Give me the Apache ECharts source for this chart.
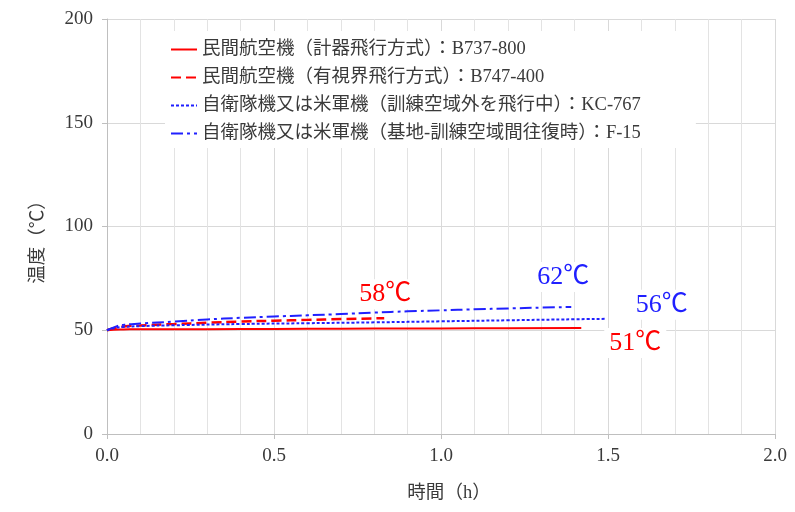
<!DOCTYPE html>
<html><head><meta charset="utf-8">
<script src="https://cdn.jsdelivr.net/npm/echarts@6/dist/echarts.min.js"></script>
<style>html,body{margin:0;padding:0;background:#fff}#c{width:795px;height:512px}</style>
</head><body><div id="c"></div>
<script>
// Series names
const seriesNames = [
  '民間航空機（計器飛行方式）：B737-800',
  '民間航空機（有視界飛行方式）：B747-400',
  '自衛隊機又は米軍機（訓練空域外を飛行中）：KC-767',
  '自衛隊機又は米軍機（基地-訓練空域間往復時）：F-15'
];
// B737-800 (red solid)
const b737X = [0, 0.02, 0.05, 0.1, 0.2, 0.4, 0.6, 0.8, 1.0, 1.2, 1.42];
const b737Y = [50, 50.3, 50.4, 50.5, 50.5, 50.6, 50.7, 50.8, 50.9, 51.0, 51.1];
// B747-400 (red dashed)
const b747X = [0, 0.02, 0.05, 0.1, 0.2, 0.3, 0.4, 0.5, 0.6, 0.7, 0.83];
const b747Y = [50, 51.0, 51.8, 52.3, 53.0, 53.6, 54.2, 54.6, 55.0, 55.4, 55.8];
// KC-767 (blue dotted)
const kc767X = [0, 0.02, 0.05, 0.1, 0.2, 0.4, 0.6, 0.8, 1.0, 1.2, 1.4, 1.49];
const kc767Y = [50, 51.0, 51.6, 52.0, 52.4, 53.0, 53.4, 53.8, 54.3, 54.8, 55.3, 55.5];
// F-15 (blue dash-dot)
const f15X = [0, 0.03, 0.05, 0.1, 0.2, 0.3, 0.4, 0.5, 0.6, 0.7, 0.8, 0.9, 1.0, 1.1, 1.2, 1.3, 1.39];
const f15Y = [50, 52.0, 52.6, 53.2, 54.2, 55.2, 56.0, 56.6, 57.2, 57.8, 58.5, 59.1, 59.6, 60.1, 60.5, 60.9, 61.2];
// Annotation labels
const peakLabels = ['51℃', '58℃', '56℃', '62℃'];
// Axis titles
const xTitle = '時間（h）';
const yTitle = '温度（℃）';

const zip = (xs, ys) => xs.map((x, i) => [x, ys[i]]);
const serif = "'Liberation Serif','Noto Sans CJK JP',serif";
const RED = '#ff0000', BLUE = '#2020ff';
const TXT = '#3a3a3a';

function mk(name, data, color, type, width, lbl, off) {
  return {
    name, type: 'line', data, symbol: 'none', smooth: true,
    lineStyle: { color, type, width },
    itemStyle: { color },
    endLabel: {
      show: true, formatter: lbl, color, fontFamily: serif, fontSize: 26,
      align: 'center', verticalAlign: 'middle', offset: off,
      backgroundColor: '#fff', padding: [2, 5]
    },
    z: 3
  };
}

const chart = echarts.init(document.getElementById('c'));
chart.setOption({
  animation: false,
  backgroundColor: '#fff',
  grid: { left: 107, right: 20, top: 19, bottom: 78 },
  legend: {
    orient: 'vertical', left: 165, top: 31,
    itemWidth: 26, itemHeight: 12, itemGap: 9,
    backgroundColor: '#fff', padding: [9, 55, 5, 5],
    itemStyle: { opacity: 0 },
    textStyle: { fontSize: 18.5, lineHeight: 19, color: TXT, fontFamily: serif },
    data: seriesNames
  },
  xAxis: {
    type: 'value', min: 0, max: 2, interval: 0.5,
    name: xTitle, nameLocation: 'middle', nameGap: 50,
    nameTextStyle: { fontSize: 18.5, color: TXT, fontFamily: serif, padding: [0, 0, 0, 16] },
    axisLine: { lineStyle: { color: '#bfbfbf' } },
    axisTick: { show: true, length: 5, lineStyle: { color: '#bfbfbf' } },
    axisLabel: { fontSize: 19, color: TXT, fontFamily: serif, margin: 13,
      formatter: v => v.toFixed(1) },
    splitLine: { lineStyle: { color: '#d9d9d9' } },
    minorTick: { show: false, splitNumber: 5 },
    minorSplitLine: { show: true, lineStyle: { color: '#e3e3e3' } }
  },
  yAxis: {
    type: 'value', min: 0, max: 200, interval: 50,
    name: yTitle, nameLocation: 'middle', nameGap: 60,
    nameTextStyle: { fontSize: 18.5, color: TXT, fontFamily: serif, padding: [0, 22, 0, 0] },
    axisLine: { show: true, lineStyle: { color: '#bfbfbf' } },
    axisTick: { show: true, length: 5, lineStyle: { color: '#bfbfbf' } },
    axisLabel: { fontSize: 19, color: TXT, fontFamily: serif, margin: 14 },
    splitLine: { lineStyle: { color: '#d9d9d9' } }
  },
  series: [
    mk(seriesNames[0], zip(b737X, b737Y), RED, 'solid', 2, peakLabels[0], [46, 15]),
    mk(seriesNames[1], zip(b747X, b747Y), RED, [10, 5], 2.5, peakLabels[1], [-7, -24]),
    mk(seriesNames[2], zip(kc767X, kc767Y), BLUE, [3, 2], 2, peakLabels[2], [49, -14]),
    mk(seriesNames[3], zip(f15X, f15Y), BLUE, [12, 4, 3, 4], 2, peakLabels[3], [-16, -30])
  ]
});
</script></body></html>
